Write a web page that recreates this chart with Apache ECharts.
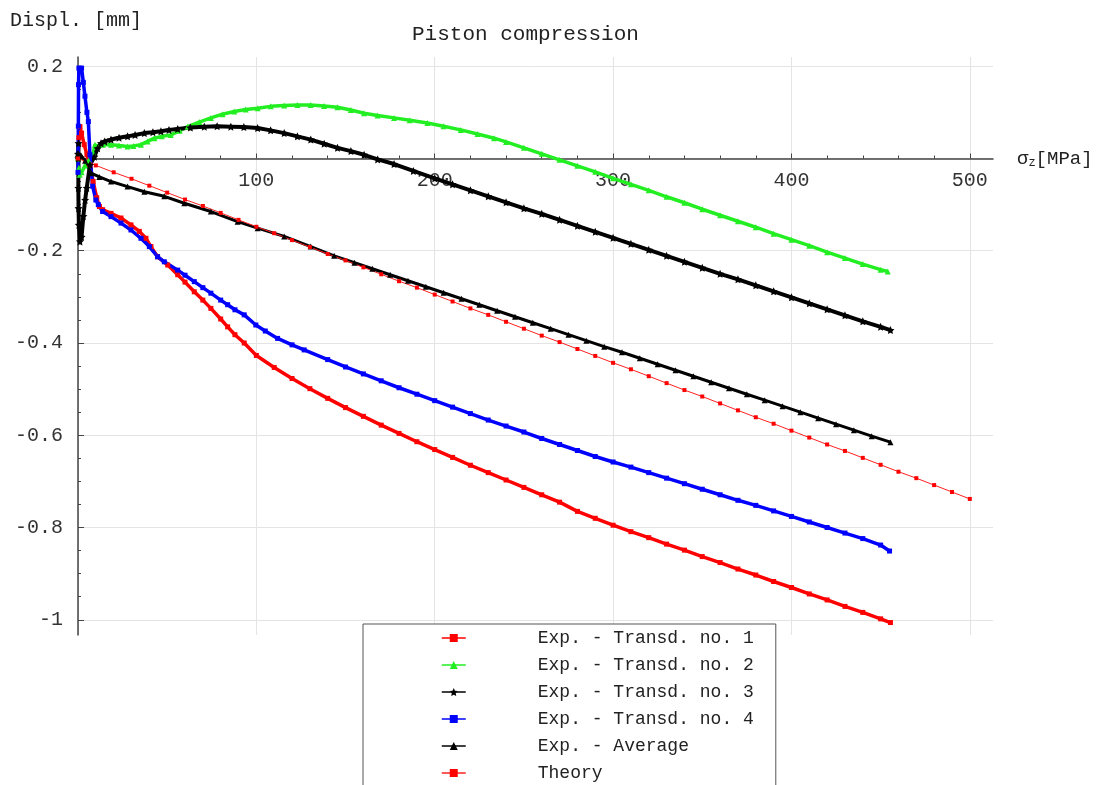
<!DOCTYPE html>
<html>
<head>
<meta charset="utf-8">
<script src="https://cdn.jsdelivr.net/npm/echarts@6/dist/echarts.min.js"></script>
<style>
  html, body { margin: 0; padding: 0; background: #fff; }
  #chart { width: 1103px; height: 785px; }
</style>
</head>
<body>
<div id="chart"></div>
<script>
// Piston compression: displacement [mm] vs axial stress sigma_z [MPa]

const seriesNames = [
  'Exp. - Transd. no. 1',
  'Exp. - Transd. no. 2',
  'Exp. - Transd. no. 3',
  'Exp. - Transd. no. 4',
  'Exp. - Average',
  'Theory'
];

const xMajorTicks = [0, 100, 200, 300, 400, 500];
const xTickLabels = [100, 200, 300, 400, 500];
const yMajorTicks = [0.2, 0, -0.2, -0.4, -0.6, -0.8, -1];
const yTickLabels = [0.2, -0.2, -0.4, -0.6, -0.8, -1];
const yMinorTicks = [0.2, 0.15, 0.1, 0.05, 0, -0.05, -0.1, -0.15, -0.2, -0.25, -0.3, -0.35,
  -0.4, -0.45, -0.5, -0.55, -0.6, -0.65, -0.7, -0.75, -0.8, -0.85, -0.9, -0.95, -1];

// [sigma_z, displacement]
const transd1 = [
  [0, 0], [0.5, 0.045], [1.1, 0.069], [2, 0.055], [3.5, 0.03], [5, 0.008], [6.7, -0.014],
  [8.5, -0.05], [10.5, -0.085], [12, -0.104], [13.8, -0.111], [18.5, -0.119], [24.1, -0.129],
  [29.7, -0.144], [34.4, -0.158], [38.1, -0.173], [40.9, -0.191], [44.6, -0.213], [50.3, -0.231],
  [55.9, -0.252], [60, -0.268], [65.2, -0.289], [70, -0.307], [74.5, -0.325], [80, -0.348],
  [83.9, -0.365], [88, -0.382], [93.2, -0.4], [100, -0.427], [110, -0.453], [120, -0.477],
  [130, -0.499], [140, -0.52], [150, -0.54], [160, -0.559], [170, -0.578], [180, -0.596],
  [190, -0.614], [200, -0.631], [210, -0.648], [220, -0.665], [230, -0.681], [240, -0.697],
  [250, -0.713], [260, -0.729], [270, -0.745], [280, -0.765], [290, -0.78], [300, -0.795],
  [310, -0.809], [320, -0.822], [330, -0.836], [340, -0.849], [350, -0.863], [360, -0.876],
  [370, -0.89], [380, -0.903], [390, -0.917], [400, -0.93], [410, -0.944], [420, -0.957],
  [430, -0.971], [440, -0.984], [450, -0.998], [455.5, -1.006]
];

const transd2 = [
  [0, 0], [0.5, -0.02], [1, -0.035], [2, -0.03], [4, -0.015], [6, -0.005], [8.6, 0.012],
  [9.5, 0.03], [11, 0.026], [14, 0.03], [18.5, 0.03], [23, 0.028], [27.8, 0.026], [31, 0.027],
  [35.3, 0.03], [39, 0.037], [42.8, 0.044], [47, 0.048], [52, 0.051], [57, 0.06], [61.5, 0.069],
  [68, 0.079], [74.5, 0.088], [81, 0.096], [87.6, 0.102], [94, 0.106], [100.7, 0.109],
  [108, 0.113], [115.6, 0.115], [123, 0.116], [130.5, 0.116], [138, 0.114], [145.5, 0.111],
  [153, 0.105], [160.4, 0.098], [168, 0.093], [177.2, 0.088], [186, 0.083], [195.9, 0.077],
  [205, 0.07], [214.6, 0.062], [224, 0.053], [233.3, 0.044], [240, 0.036], [250, 0.023],
  [260, 0.01], [270, -0.003], [280, -0.016], [290, -0.029], [300, -0.043], [310, -0.056],
  [320, -0.069], [330, -0.083], [340, -0.096], [350, -0.11], [360, -0.123], [370, -0.136],
  [380, -0.149], [390, -0.163], [400, -0.176], [410, -0.189], [420, -0.203], [430, -0.216],
  [440, -0.229], [450, -0.241], [454, -0.245]
];

const transd3 = [
  [0, 0.01], [0.3, 0.033], [0.2, 0], [0.2, -0.064], [0.3, -0.108], [0.5, -0.144], [1.1, -0.18],
  [2, -0.17], [3, -0.125], [4, -0.09], [4.9, -0.064], [6.7, -0.014], [9.2, 0.004], [11, 0.022],
  [12.9, 0.033], [15, 0.037], [18.5, 0.041], [23, 0.045], [27.8, 0.048], [32, 0.051],
  [37.2, 0.055], [42, 0.057], [46.5, 0.059], [51, 0.062], [55.9, 0.064], [63, 0.067],
  [70.8, 0.069], [78, 0.07], [85.7, 0.069], [93, 0.068], [100.7, 0.066], [108, 0.061],
  [115.6, 0.055], [123, 0.048], [130.5, 0.041], [138, 0.032], [145.5, 0.023], [153, 0.016],
  [160.4, 0.008], [168, -0.002], [177.2, -0.012], [188, -0.027], [200, -0.043], [210, -0.056],
  [220, -0.069], [230, -0.082], [240, -0.095], [250, -0.108], [260, -0.12], [270, -0.133],
  [280, -0.146], [290, -0.159], [300, -0.172], [310, -0.185], [320, -0.198], [330, -0.211],
  [340, -0.224], [350, -0.237], [360, -0.25], [370, -0.262], [380, -0.275], [390, -0.288],
  [400, -0.301], [410, -0.314], [420, -0.327], [430, -0.34], [440, -0.353], [450, -0.365],
  [455.5, -0.372]
];

const transd4 = [
  [0, -0.03], [0.2, 0.07], [0.3, 0.16], [0.5, 0.196], [2, 0.196], [3, 0.165], [3.9, 0.135],
  [5, 0.1], [5.8, 0.08], [6.7, 0.008], [8.2, -0.06], [10, -0.09], [11.4, -0.1], [13.8, -0.115],
  [18.5, -0.126], [24.1, -0.14], [29.7, -0.155], [35.3, -0.173], [40, -0.191], [44.6, -0.213],
  [48.4, -0.224], [55.9, -0.242], [60, -0.253], [65.2, -0.267], [70, -0.28], [74.5, -0.292],
  [80, -0.307], [83.9, -0.317], [88, -0.328], [93.2, -0.339], [99.7, -0.361], [105, -0.374],
  [111.9, -0.39], [120, -0.404], [126.8, -0.415], [140, -0.436], [150, -0.452], [160, -0.467],
  [170, -0.482], [180, -0.497], [190, -0.511], [200, -0.525], [210, -0.539], [220, -0.553],
  [230, -0.567], [240, -0.58], [250, -0.593], [260, -0.607], [270, -0.62], [280, -0.633],
  [290, -0.646], [300, -0.658], [310, -0.669], [320, -0.681], [330, -0.693], [340, -0.705],
  [350, -0.717], [360, -0.729], [370, -0.741], [380, -0.752], [390, -0.764], [400, -0.776],
  [410, -0.788], [420, -0.8], [430, -0.812], [440, -0.824], [450, -0.838], [455, -0.851]
];

const average = [
  [0, 0.01], [2, 0.005], [4, -0.005], [7.3, -0.032], [12, -0.04], [18.5, -0.05], [27.8, -0.061],
  [37.2, -0.072], [48.4, -0.082], [59.6, -0.097], [74.5, -0.115], [89.5, -0.137], [100.7, -0.151],
  [115.6, -0.169], [130.5, -0.191], [143.6, -0.211], [155, -0.226], [165, -0.239], [175, -0.252],
  [185, -0.265], [195, -0.278], [205, -0.291], [215, -0.304], [225, -0.317], [235, -0.33],
  [245, -0.343], [255, -0.356], [265, -0.369], [275, -0.382], [285, -0.395], [295, -0.408],
  [305, -0.42], [315, -0.433], [325, -0.446], [335, -0.459], [345, -0.472], [355, -0.485],
  [365, -0.498], [375, -0.511], [385, -0.524], [395, -0.537], [405, -0.55], [415, -0.563],
  [425, -0.576], [435, -0.589], [445, -0.602], [455.5, -0.615]
];

const theoryStress = [0, 10, 20, 30, 40, 50, 60, 70, 80, 90, 100, 110, 120, 130, 140, 150, 160,
  170, 180, 190, 200, 210, 220, 230, 240, 250, 260, 270, 280, 290, 300, 310, 320, 330, 340, 350,
  360, 370, 380, 390, 400, 410, 420, 430, 440, 450, 460, 470, 480, 490, 500];
const theoryDispl = [0, -0.015, -0.03, -0.044, -0.059, -0.074, -0.089, -0.103, -0.118, -0.133,
  -0.148, -0.162, -0.177, -0.192, -0.207, -0.221, -0.236, -0.251, -0.266, -0.28, -0.295, -0.31,
  -0.325, -0.339, -0.354, -0.369, -0.384, -0.398, -0.413, -0.428, -0.443, -0.457, -0.472, -0.487,
  -0.502, -0.516, -0.531, -0.546, -0.561, -0.575, -0.59, -0.605, -0.62, -0.634, -0.649, -0.664,
  -0.679, -0.693, -0.708, -0.723, -0.738];

const FONT = '"Liberation Mono", "DejaVu Sans Mono", monospace';
const AXIS_COLOR = '#444';
const GRID_COLOR = '#e4e4e4';
const STAR = 'path://M0,-10L2.9,-4L9.5,-3.1L4.7,1.5L5.9,8.1L0,5L-5.9,8.1L-4.7,1.5L-9.5,-3.1L-2.9,-4Z';

const X_MIN = 0, X_MAX = 513;
const Y_MIN = -1.033, Y_MAX = 0.22;

const GRID = { left: 78, right: 110, top: 57, bottom: 150 };
const CHART_H = 785;
const gridH = CHART_H - GRID.top - GRID.bottom;
// lift the stress axis from the grid bottom up to displacement = 0
const xAxisOffset = -gridH * (0 - Y_MIN) / (Y_MAX - Y_MIN);

function fmtY(v) {
  return String(Math.round(v * 10) / 10);
}

const chart = echarts.init(document.getElementById('chart'), null, { renderer: 'canvas' });

chart.setOption({
  backgroundColor: '#fff',
  animation: false,
  textStyle: { fontFamily: FONT },
  title: [
    {
      text: 'Piston compression',
      left: 407, top: 19,
      textStyle: { fontFamily: FONT, fontSize: 21, fontWeight: 'normal', color: '#222' }
    },
    {
      text: 'Displ. [mm]',
      left: 5, top: 6,
      textStyle: { fontFamily: FONT, fontSize: 20, fontWeight: 'normal', color: '#222' }
    }
  ],
  legend: {
    orient: 'vertical',
    left: 363, top: 624,
    height: 300,
    padding: [5, 22, 30, 78],
    itemWidth: 24, itemHeight: 10, itemGap: 9,
    backgroundColor: '#fff',
    borderColor: '#555', borderWidth: 1,
    borderRadius: 0,
    selectedMode: false,
    lineStyle: { width: 1.5 },
    textStyle: { fontFamily: FONT, fontSize: 18, color: '#222', lineHeight: 18, padding: [0, 0, 0, 67] },
    data: seriesNames
  },
  grid: { left: GRID.left, right: GRID.right, top: GRID.top, bottom: GRID.bottom, containLabel: false },
  xAxis: [
    {
      type: 'value', min: X_MIN, max: X_MAX, interval: 100,
      position: 'bottom', offset: xAxisOffset,
      name: '{s|σ}{z|z}{s|[MPa]}', nameLocation: 'end', nameGap: 24,
      nameTextStyle: {
        rich: {
          s: { fontFamily: FONT, fontSize: 19, color: '#222' },
          z: { fontFamily: FONT, fontSize: 12, color: '#222', padding: [9, 0, 0, 0] }
        }
      },
      axisLine: { onZero: false, lineStyle: { color: AXIS_COLOR, width: 1.5 } },
      axisTick: { inside: true, length: 5, customValues: xMajorTicks, lineStyle: { color: AXIS_COLOR } },
      minorTick: { show: true, splitNumber: 5, length: 3, lineStyle: { color: AXIS_COLOR } },
      axisLabel: { customValues: xTickLabels, margin: 12, fontFamily: FONT, fontSize: 20, color: '#333' },
      splitLine: { show: true, lineStyle: { color: GRID_COLOR, width: 1 } }
    }
  ],
  yAxis: [
    {
      type: 'value', min: Y_MIN, max: Y_MAX,
      axisLine: { onZero: false, lineStyle: { color: AXIS_COLOR, width: 1.5 } },
      axisTick: { inside: true, length: 6, customValues: yMajorTicks, lineStyle: { color: AXIS_COLOR } },
      axisLabel: {
        customValues: yTickLabels, margin: 15, fontFamily: FONT, fontSize: 20, color: '#333',
        formatter: fmtY
      },
      splitLine: { show: true, lineStyle: { color: GRID_COLOR, width: 1 } }
    },
    {
      // minor ticks along the displacement axis
      type: 'value', min: Y_MIN, max: Y_MAX, position: 'left',
      axisLine: { show: false, onZero: false },
      axisTick: { inside: true, length: 3, customValues: yMinorTicks, lineStyle: { color: AXIS_COLOR } },
      axisLabel: { show: false },
      splitLine: { show: false }
    }
  ],
  series: [
    {
      name: seriesNames[0], type: 'line', data: transd1,
      color: '#ff0000', lineStyle: { width: 3.5, color: '#ff0000' },
      symbol: 'rect', symbolSize: 5, showAllSymbol: true, z: 3
    },
    {
      name: seriesNames[1], type: 'line', data: transd2,
      color: '#22ee22', lineStyle: { width: 3.5, color: '#22ee22' },
      symbol: 'triangle', symbolSize: 6, showAllSymbol: true, z: 3
    },
    {
      name: seriesNames[2], type: 'line', data: transd3,
      color: '#000', lineStyle: { width: 4, color: '#000' },
      symbol: STAR, symbolSize: 8, showAllSymbol: true, z: 3
    },
    {
      name: seriesNames[3], type: 'line', data: transd4,
      color: '#0000ff', lineStyle: { width: 3.5, color: '#0000ff' },
      symbol: 'rect', symbolSize: 5, showAllSymbol: true, z: 3
    },
    {
      name: seriesNames[4], type: 'line', data: average,
      color: '#000', lineStyle: { width: 3, color: '#000' },
      symbol: 'triangle', symbolSize: 6, showAllSymbol: true, z: 3
    },
    {
      name: seriesNames[5], type: 'line',
      data: theoryStress.map((s, i) => [s, theoryDispl[i]]),
      color: '#ff0000', lineStyle: { width: 1, color: '#ff2020' },
      symbol: 'rect', symbolSize: 4, showAllSymbol: true, z: 3
    }
  ]
});
</script>
</body>
</html>
